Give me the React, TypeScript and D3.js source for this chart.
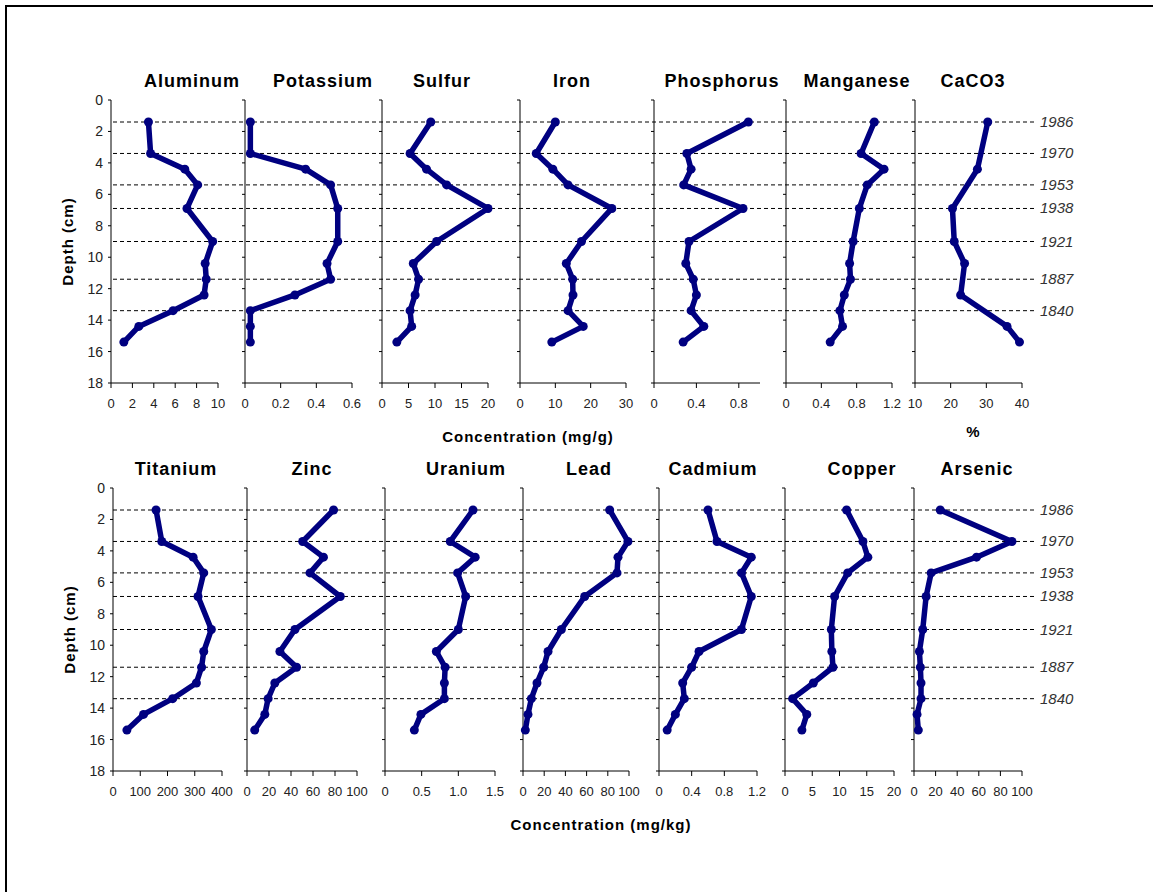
import * as d3 from 'd3';

// depth of each sample (cm)
const depths = [1.4, 3.4, 4.4, 5.4, 6.9, 9.0, 10.4, 11.4, 12.4, 13.4, 14.4, 15.4];
const depthsCaCO3 = [1.4, 4.4, 6.9, 9.0, 10.4, 12.4, 14.4, 15.4];

// dated horizons
const years = ['1986', '1970', '1953', '1938', '1921', '1887', '1840'];
const yearDepths = [1.4, 3.4, 5.4, 6.9, 9.0, 11.4, 13.4];

const depthTicks = [0, 2, 4, 6, 8, 10, 12, 14, 16, 18];

// mg/g
const aluminum = [3.5, 3.7, 6.9, 8.1, 7.1, 9.5, 8.8, 8.9, 8.7, 5.8, 2.6, 1.2];
const potassium = [0.03, 0.03, 0.34, 0.48, 0.52, 0.52, 0.46, 0.48, 0.28, 0.03, 0.03, 0.03];
const sulfur = [9.2, 5.3, 8.4, 12.2, 20, 10.3, 5.9, 6.9, 6.25, 5.3, 5.6, 2.8];
const iron = [10, 4.6, 9.3, 13.6, 26, 17.4, 13.1, 14.9, 15, 13.6, 17.9, 9];
const phosphorus = [0.89, 0.31, 0.35, 0.28, 0.84, 0.33, 0.3, 0.37, 0.4, 0.35, 0.47, 0.275];
const manganese = [1.0, 0.85, 1.11, 0.92, 0.83, 0.76, 0.72, 0.73, 0.66, 0.61, 0.64, 0.5];
// %
const caco3 = [30.4, 27.5, 20.5, 21, 23.9, 22.8, 35.8, 39.3];

// mg/kg
const titanium = [158, 179, 294, 333, 312, 361, 333, 325, 306, 219, 112, 51];
const zinc = [78.7, 50.6, 69.5, 57.3, 84.8, 43.6, 29.9, 45.1, 25.3, 19.2, 16.2, 7.0];
const uranium = [1.2, 0.89, 1.23, 0.99, 1.1, 1.0, 0.7, 0.82, 0.81, 0.81, 0.49, 0.4];
const lead = [81.8, 99, 89.6, 88.7, 58.2, 36.2, 23.6, 19.5, 13.2, 7.9, 4.7, 2.2];
const cadmium = [0.6, 0.71, 1.13, 1.01, 1.13, 1.01, 0.49, 0.4, 0.29, 0.31, 0.2, 0.1];
const copper = [11.3, 14.3, 15.2, 11.5, 9.1, 8.5, 8.6, 8.8, 5.2, 1.4, 4.0, 3.1];
const arsenic = [24.3, 90.7, 57.9, 15.9, 11.2, 8.1, 5.0, 5.9, 6.5, 6.5, 2.8, 4.0];

const topPanels = [
  { name: 'Aluminum', values: aluminum, depths, domain: [0, 10], ticks: [0, 2, 4, 6, 8, 10], labels: ['0', '2', '4', '6', '8', '10'] },
  { name: 'Potassium', values: potassium, depths, domain: [0, 0.6], ticks: [0, 0.2, 0.4, 0.6], labels: ['0', '0.2', '0.4', '0.6'] },
  { name: 'Sulfur', values: sulfur, depths, domain: [0, 20], ticks: [0, 5, 10, 15, 20], labels: ['0', '5', '10', '15', '20'] },
  { name: 'Iron', values: iron, depths, domain: [0, 30], ticks: [0, 10, 20, 30], labels: ['0', '10', '20', '30'] },
  { name: 'Phosphorus', values: phosphorus, depths, domain: [0, 1], ticks: [0, 0.4, 0.8], labels: ['0', '0.4', '0.8'] },
  { name: 'Manganese', values: manganese, depths, domain: [0, 1.2], ticks: [0, 0.4, 0.8, 1.2], labels: ['0', '0.4', '0.8', '1.2'] },
  { name: 'CaCO3', values: caco3, depths: depthsCaCO3, domain: [10, 40], ticks: [10, 20, 30, 40], labels: ['10', '20', '30', '40'] },
];

const bottomPanels = [
  { name: 'Titanium', values: titanium, depths, domain: [0, 400], ticks: [0, 100, 200, 300, 400], labels: ['0', '100', '200', '300', '400'] },
  { name: 'Zinc', values: zinc, depths, domain: [0, 100], ticks: [0, 20, 40, 60, 80, 100], labels: ['0', '20', '40', '60', '80', '100'] },
  { name: 'Uranium', values: uranium, depths, domain: [0, 1.5], ticks: [0, 0.5, 1, 1.5], labels: ['0', '0.5', '1.0', '1.5'] },
  { name: 'Lead', values: lead, depths, domain: [0, 100], ticks: [0, 20, 40, 60, 80, 100], labels: ['0', '20', '40', '60', '80', '100'] },
  { name: 'Cadmium', values: cadmium, depths, domain: [0, 1.2], ticks: [0, 0.4, 0.8, 1.2], labels: ['0', '0.4', '0.8', '1.2'] },
  { name: 'Copper', values: copper, depths, domain: [0, 20], ticks: [0, 5, 10, 15, 20], labels: ['0', '5', '10', '15', '20'] },
  { name: 'Arsenic', values: arsenic, depths, domain: [0, 100], ticks: [0, 20, 40, 60, 80, 100], labels: ['0', '20', '40', '60', '80', '100'] },
];

// layout: plot x-extent and title centre of each panel
const topLayout = [
  [111, 218, 192], [245, 352, 323], [382, 488, 442], [520, 626, 572],
  [654, 760, 722], [786, 892, 857], [915, 1022, 973],
];
const bottomLayout = [
  [113, 222, 176], [247, 357, 312], [385, 495, 466], [523, 629, 589],
  [659, 757, 713], [785, 894, 862], [914, 1022, 977],
];

const FONT = 'Liberation Sans, Arial, sans-serif';
const NAVY = '#000080';

function Row({ panels, layout, top, bottom, xTitle, xTitleX, extra }) {
  const y = d3.scaleLinear().domain([0, 18]).range([top, bottom]);
  return (
    <g>
      {/* dated horizons */}
      {yearDepths.map((d, i) => (
        <g key={'yr' + i}>
          <line x1={113} x2={1035} y1={y(d)} y2={y(d)} stroke="#000" strokeWidth={1} strokeDasharray="4,3" />
          <text x={1040} y={y(d) + 5} fontFamily={FONT} fontSize={15} fontStyle="italic" fill="#333">{years[i]}</text>
        </g>
      ))}
      {panels.map((p, i) => {
        const [x0, x1, tx] = layout[i];
        const x = d3.scaleLinear().domain(p.domain).range([x0, x1]);
        const line = d3.line<number>().x((v) => x(v)).y((_, j) => y(p.depths[j]));
        return (
          <g key={p.name}>
            <text x={tx} y={top - 13} textAnchor="middle" fontFamily={FONT} fontWeight="bold" fontSize={18} letterSpacing={1}>{p.name}</text>
            <line x1={x0} x2={x0} y1={top} y2={bottom} stroke="#000" />
            {depthTicks.map((t) => (
              <line key={t} x1={x0 - 3} x2={x0} y1={y(t)} y2={y(t)} stroke="#000" />
            ))}
            {i === 0 && depthTicks.map((t) => (
              <text key={'l' + t} x={x0 - 8} y={y(t) + 5} textAnchor="end" fontFamily={FONT} fontSize={14} fill="#222">{t}</text>
            ))}
            <line x1={x0} x2={x1} y1={bottom} y2={bottom} stroke="#000" />
            {p.ticks.map((t, k) => (
              <g key={'x' + k}>
                <line x1={x(t)} x2={x(t)} y1={bottom} y2={bottom + 5} stroke="#000" />
                <text x={x(t)} y={bottom + 25} textAnchor="middle" fontFamily={FONT} fontSize={13} fill="#222">{p.labels[k]}</text>
              </g>
            ))}
            <path d={line(p.values) || ''} fill="none" stroke={NAVY} strokeWidth={5.5} strokeLinejoin="round" strokeLinecap="round" />
            {p.values.map((v, j) => (
              <circle key={j} cx={x(v)} cy={y(p.depths[j])} r={4.5} fill={NAVY} />
            ))}
          </g>
        );
      })}
      <text
        transform={`translate(${layout[0][0] - 38},${(top + bottom) / 2}) rotate(-90)`}
        textAnchor="middle" fontFamily={FONT} fontWeight="bold" fontSize={15} letterSpacing={1}
      >Depth (cm)</text>
      <text x={xTitleX} y={bottom + 59} textAnchor="middle" fontFamily={FONT} fontWeight="bold" fontSize={15} letterSpacing={1}>{xTitle}</text>
      {extra}
    </g>
  );
}

export default function App() {
  return (
    <svg width={1153} height={892} style={{ position: 'absolute', left: 0, top: 0, background: '#fff' }}>
      <rect x={6} y={6} width={1300} height={1000} fill="none" stroke="#000" strokeWidth={2} />
      <Row
        panels={topPanels} layout={topLayout} top={100} bottom={383}
        xTitle="Concentration (mg/g)" xTitleX={528}
        extra={<text x={973} y={437} textAnchor="middle" fontFamily={FONT} fontWeight="bold" fontSize={15}>%</text>}
      />
      <Row
        panels={bottomPanels} layout={bottomLayout} top={488} bottom={771}
        xTitle="Concentration (mg/kg)" xTitleX={601} extra={null}
      />
    </svg>
  );
}
